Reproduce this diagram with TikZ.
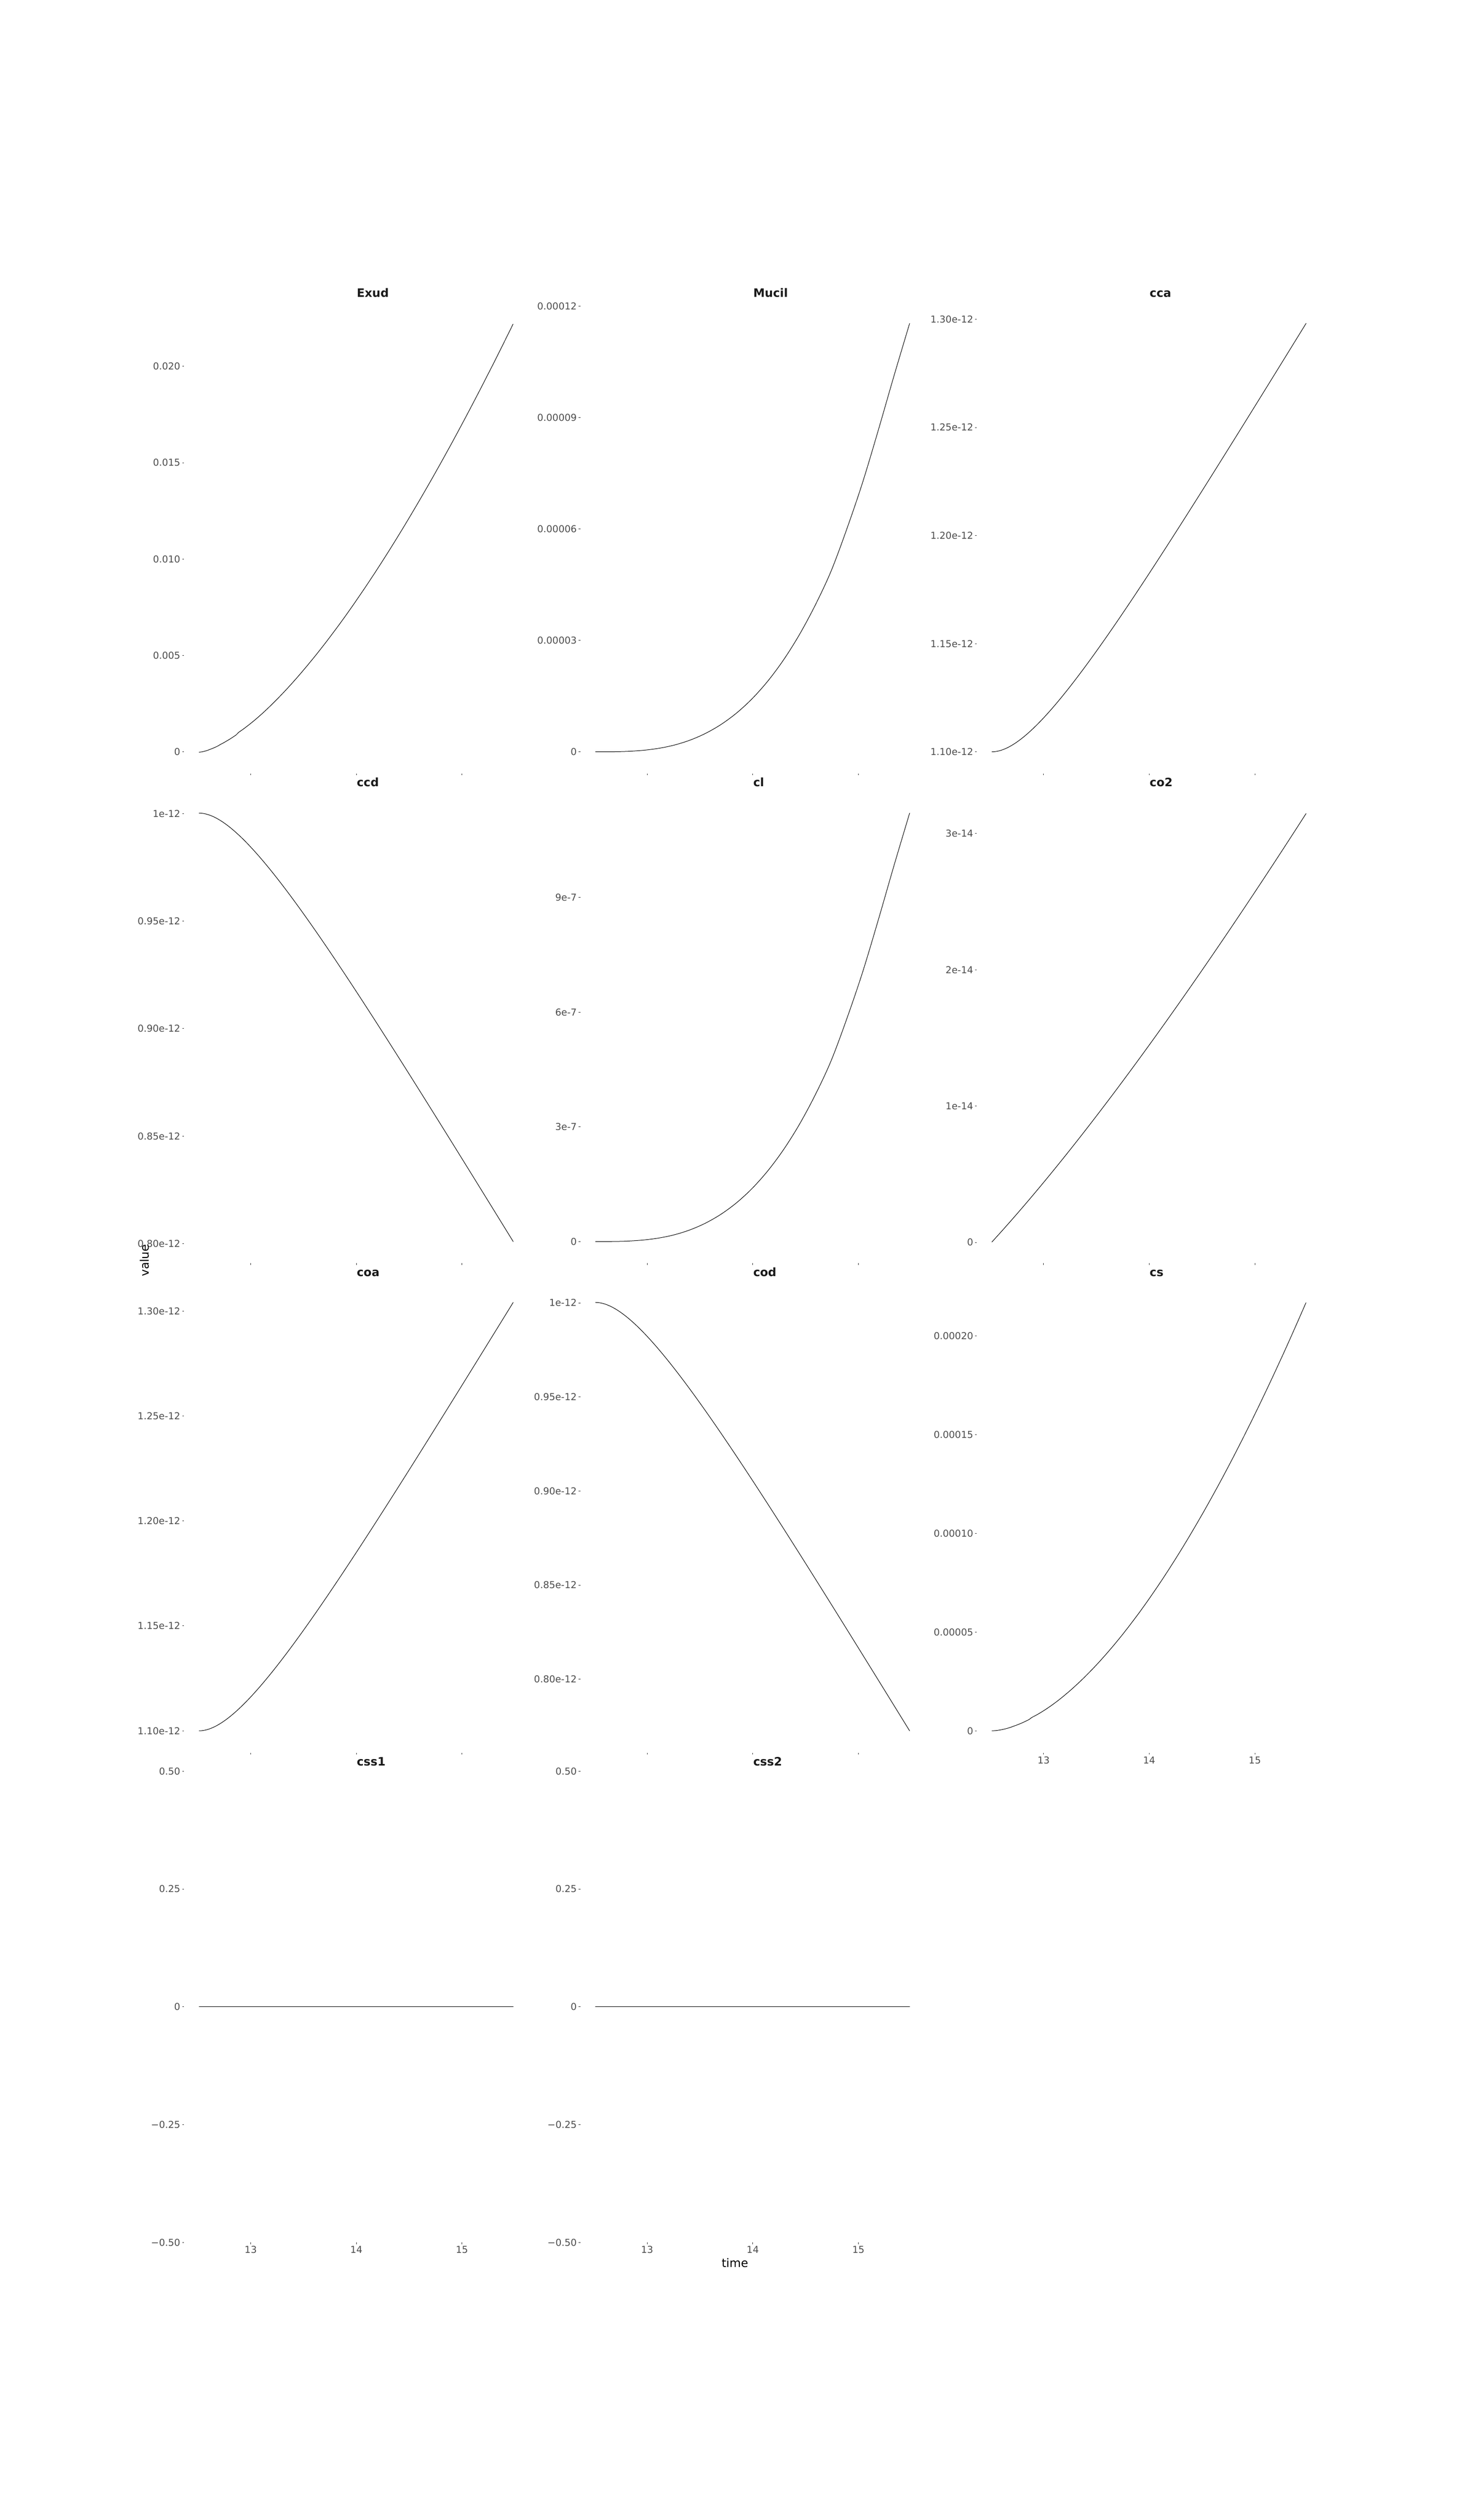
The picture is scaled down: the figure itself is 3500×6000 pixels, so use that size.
\documentclass[tikz,border=0pt]{standalone}
\usepackage{fontspec}
\setmainfont{DejaVu Sans}
\definecolor{labgray}{HTML}{4D4D4D}
\definecolor{titlecol}{HTML}{1A1A1A}
\definecolor{tickgray}{HTML}{333333}
\newcommand\ticksz{\fontsize{6.46pt}{7.5pt}\selectfont}
\newcommand\titlesz{\fontsize{7.85pt}{9pt}\selectfont\bfseries}
\newcommand\axsz{\fontsize{7.95pt}{9pt}\selectfont}
\tikzset{
  ticklab/.style={anchor=base east, inner sep=0pt, text=labgray, font=\ticksz},
  xticklab/.style={anchor=base, inner sep=0pt, text=labgray, font=\ticksz},
  ptitle/.style={anchor=base west, inner sep=0pt, text=titlecol, font=\titlesz},
  axtitle/.style={anchor=base, inner sep=0pt, text=black, font=\axsz},
  tickmark/.style={draw=tickgray, line width=0.28pt},
  curveline/.style={draw=black, line width=0.34pt, line join=round, line cap=round}
}
% #1 col, #2 id, #3 list text/y
\newcommand\yticks[3]{%
  \foreach \txt/\yy [count=\k] in {#3} {
    \draw[tickmark] ({434+944*#1},\yy) -- ({438+944*#1},\yy);
    \node[ticklab] (#2-y\k) at ({430+944*#1},{\yy+8.3}) {\txt};
  }}
% #1 col, #2 panel bottom
\newcommand\xticks[2]{%
  \foreach \xx in {597,848.5,1100} {
    \draw[tickmark] ({\xx+944*#1},#2) -- ({\xx+944*#1},{#2+4});
  }}
% #1 col, #2 panel bottom, #3 id
\newcommand\xlabels[3]{%
  \foreach \xx/\txt [count=\k] in {597/13,848.5/14,1100/15} {
    \node[xticklab] (#3-x\k) at ({\xx+944*#1},{#2+26}) {\txt};
  }}
% power-law curve: #1 col, #2 data bottom y, #3 exponent
\newcommand\datapow[3]{%
  \begin{scope}[shift={({474+944*#1},#2)}, xscale=748, yscale=-1020]
    \draw[curveline] (0,0) -- plot[domain=0.01:1, samples=120, smooth] (\x,{\x^#3});
  \end{scope}}
% bezier curve: #1 col, #2 data bottom y, #3 start, #4 c1, #5 c2, #6 end
\newcommand\databez[6]{%
  \begin{scope}[shift={({474+944*#1},#2)}, xscale=748, yscale=-1020]
    \draw[curveline] #3 .. controls #4 and #5 .. #6;
  \end{scope}}
% point curve: #1 col, #2 data bottom y, #3 coordinates
\newcommand\datapts[3]{%
  \begin{scope}[shift={({474+944*#1},#2)}, xscale=748, yscale=-1020]
    \draw[curveline] plot[smooth, tension=0.55] coordinates {#3};
  \end{scope}}
\newcommand\mucilpts{(0,0) (0.05,0.000125) (0.1,0.001) (0.15,0.0034) (0.2,0.008) (0.25,0.0156) (0.3,0.027) (0.35,0.0429) (0.4,0.064) (0.45,0.0911) (0.5,0.125) (0.55,0.1664) (0.6,0.216) (0.65,0.2746) (0.7,0.343) (0.75,0.4219) (0.8,0.52) (0.85,0.628) (0.9,0.75) (0.95,0.877) (1,1)}
\begin{document}
\begin{tikzpicture}[x=0.01cm, y=-0.01cm]
\useasboundingbox[fill=white] (0,0) rectangle (3500,6000);

% ---------- titles ----------
\node[ptitle] (t-exud)  at (849,707)      {Exud};
\node[ptitle] (t-mucil) at (1793,707)     {Mucil};
\node[ptitle] (t-cca)   at (2737,707)     {cca};
\node[ptitle] (t-ccd)   at (849,1872.7)   {ccd};
\node[ptitle] (t-cl)    at (1793,1872.7)  {cl};
\node[ptitle] (t-co2)   at (2737,1872.7)  {co2};
\node[ptitle] (t-coa)   at (849,3038.4)   {coa};
\node[ptitle] (t-cod)   at (1793,3038.4)  {cod};
\node[ptitle] (t-cs)    at (2737,3038.4)  {cs};
\node[ptitle] (t-css1)  at (849,4204.1)   {css1};
\node[ptitle] (t-css2)  at (1793,4204.1)  {css2};

% ---------- y ticks ----------
\yticks{0}{exud}{0/1790, 0.005/1560.5, 0.010/1331, 0.015/1101.5, 0.020/872}
\yticks{1}{mucil}{0/1790, 0.00003/1525, 0.00006/1259.5, 0.00009/994, 0.00012/729}
\yticks{2}{cca}{1.10e-12/1790, 1.15e-12/1532.5, 1.20e-12/1275, 1.25e-12/1017.5, 1.30e-12/760}
\yticks{0}{ccd}{1e-12/1937, 0.95e-12/2193, 0.90e-12/2449, 0.85e-12/2705, 0.80e-12/2961}
\yticks{1}{cl}{0/2956, 3e-7/2683, 6e-7/2410, 9e-7/2137}
\yticks{2}{co2}{0/2958, 1e-14/2633.5, 2e-14/2309, 3e-14/1984.5}
\yticks{0}{coa}{1.10e-12/4121, 1.15e-12/3871, 1.20e-12/3621, 1.25e-12/3371.5, 1.30e-12/3121.5}
\yticks{1}{cod}{1e-12/3102, 0.95e-12/3326, 0.90e-12/3550, 0.85e-12/3774, 0.80e-12/3998}
\yticks{2}{cs}{0/4121, 0.00005/3886, 0.00010/3651, 0.00015/3416, 0.00020/3181}
\yticks{0}{css1}{0.50/4217, 0.25/4497.5, 0/4778, −0.25/5058.5, −0.50/5339}
\yticks{1}{css2}{0.50/4217, 0.25/4497.5, 0/4778, −0.25/5058.5, −0.50/5339}

% ---------- x ticks ----------
\xticks{0}{1842}\xticks{1}{1842}\xticks{2}{1842}
\xticks{0}{3007.7}\xticks{1}{3007.7}\xticks{2}{3007.7}
\xticks{0}{4173.4}\xticks{1}{4173.4}\xticks{2}{4173.4}
\xticks{0}{5339.1}\xticks{1}{5339.1}
\xlabels{0}{5339.1}{css1}
\xlabels{1}{5339.1}{css2}
\xlabels{2}{4173.4}{cs}

% ---------- curves ----------
\datapow{0}{1791}{1.5}% Exud
\datapts{1}{1790}{\mucilpts}% Mucil
\databez{2}{1790}{(0,0)}{(0.15,0)}{(0.42,0.31)}{(1,1)}% cca
\databez{0}{2956}{(0,1)}{(0.15,1)}{(0.42,0.69)}{(1,0)}% ccd
\datapts{1}{2956}{\mucilpts}% cl
\databez{2}{2957}{(0,0)}{(0.3,0.24)}{(0.65,0.6)}{(1,1)}% co2
\databez{0}{4121}{(0,0)}{(0.15,0)}{(0.42,0.31)}{(1,1)}% coa
\databez{1}{4121}{(0,1)}{(0.15,1)}{(0.42,0.69)}{(1,0)}% cod
\datapow{2}{4121}{1.7}% cs
% css1, css2
\draw[curveline] (474,4778) -- (1222,4778);
\draw[curveline] (1418,4778) -- (2166,4778);

% ---------- axis titles ----------
\node[axtitle] (ax-time) at (1750,5398.5) {time};
\node[axtitle, rotate=90] (ax-value) at (354,3001) {value};
\end{tikzpicture}
\end{document}
